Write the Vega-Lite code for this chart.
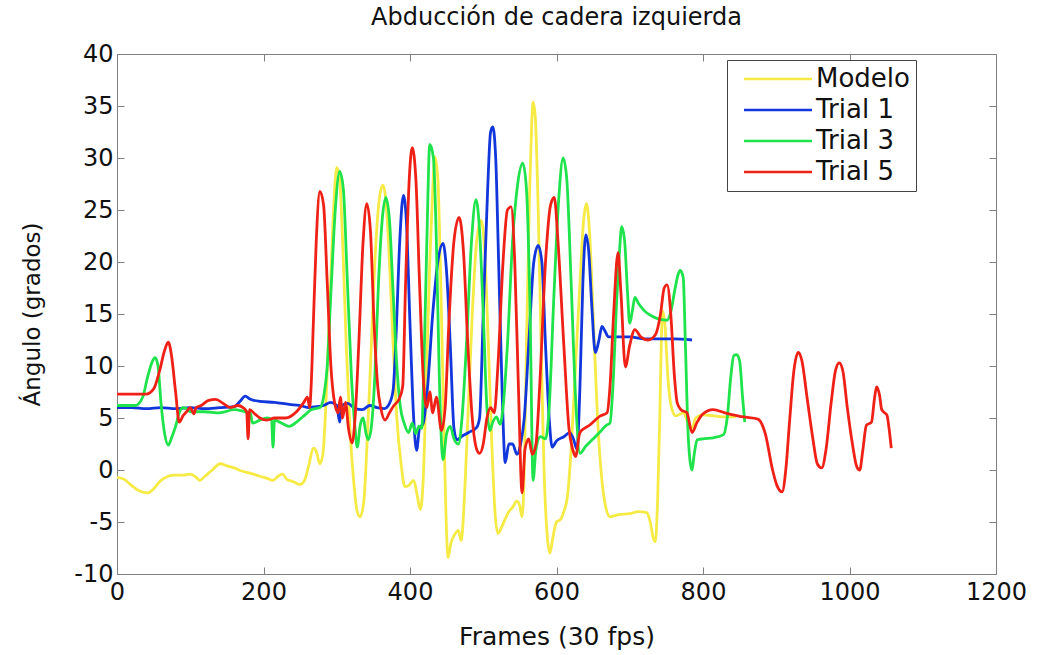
{
  "$schema": "https://vega.github.io/schema/vega-lite/v6.json",
  "width": 879,
  "height": 520,
  "autosize": {"type": "none"},
  "padding": {"left": 117, "top": 54, "right": 45, "bottom": 81},
  "background": "white",
  "title": {
    "text": "Abducción de cadera izquierda",
    "font": "DejaVu Sans",
    "fontSize": 24,
    "fontWeight": "normal",
    "color": "#111",
    "anchor": "middle",
    "offset": 12
  },
  "config": {
    "view": {"stroke": "#808080", "strokeWidth": 1},
    "axis": {
      "grid": false,
      "domainColor": "#808080",
      "tickColor": "#808080",
      "labelFont": "DejaVu Sans",
      "labelFontSize": 24,
      "labelColor": "#111",
      "titleFont": "DejaVu Sans",
      "titleFontWeight": "normal",
      "titleColor": "#111",
      "labelFlush": false,
      "labelOverlap": false
    }
  },
  "data": {
    "values": [
      {"serie": "Modelo", "frame": 0, "angulo": -0.7},
      {"serie": "Modelo", "frame": 10, "angulo": -0.9},
      {"serie": "Modelo", "frame": 20, "angulo": -1.5},
      {"serie": "Modelo", "frame": 30, "angulo": -2.0},
      {"serie": "Modelo", "frame": 42, "angulo": -2.2},
      {"serie": "Modelo", "frame": 50, "angulo": -1.8},
      {"serie": "Modelo", "frame": 60, "angulo": -1.0},
      {"serie": "Modelo", "frame": 70, "angulo": -0.6},
      {"serie": "Modelo", "frame": 77, "angulo": -0.5},
      {"serie": "Modelo", "frame": 90, "angulo": -0.5},
      {"serie": "Modelo", "frame": 100, "angulo": -0.4},
      {"serie": "Modelo", "frame": 108, "angulo": -0.7},
      {"serie": "Modelo", "frame": 113, "angulo": -1.0},
      {"serie": "Modelo", "frame": 120, "angulo": -0.6},
      {"serie": "Modelo", "frame": 130, "angulo": 0.0},
      {"serie": "Modelo", "frame": 141, "angulo": 0.6},
      {"serie": "Modelo", "frame": 150, "angulo": 0.4},
      {"serie": "Modelo", "frame": 160, "angulo": 0.2},
      {"serie": "Modelo", "frame": 170, "angulo": -0.1},
      {"serie": "Modelo", "frame": 182, "angulo": -0.3},
      {"serie": "Modelo", "frame": 195, "angulo": -0.6},
      {"serie": "Modelo", "frame": 205, "angulo": -0.8},
      {"serie": "Modelo", "frame": 213, "angulo": -1.0},
      {"serie": "Modelo", "frame": 220, "angulo": -0.6},
      {"serie": "Modelo", "frame": 226, "angulo": -0.4},
      {"serie": "Modelo", "frame": 232, "angulo": -0.9},
      {"serie": "Modelo", "frame": 240, "angulo": -1.1},
      {"serie": "Modelo", "frame": 250, "angulo": -1.4},
      {"serie": "Modelo", "frame": 256, "angulo": -1.0},
      {"serie": "Modelo", "frame": 262, "angulo": 0.5},
      {"serie": "Modelo", "frame": 268, "angulo": 2.1},
      {"serie": "Modelo", "frame": 272, "angulo": 1.8},
      {"serie": "Modelo", "frame": 277, "angulo": 0.6},
      {"serie": "Modelo", "frame": 281, "angulo": 1.5},
      {"serie": "Modelo", "frame": 285, "angulo": 6},
      {"serie": "Modelo", "frame": 290, "angulo": 15},
      {"serie": "Modelo", "frame": 295, "angulo": 24},
      {"serie": "Modelo", "frame": 300, "angulo": 29.1},
      {"serie": "Modelo", "frame": 304, "angulo": 28},
      {"serie": "Modelo", "frame": 308, "angulo": 22},
      {"serie": "Modelo", "frame": 313, "angulo": 12},
      {"serie": "Modelo", "frame": 318, "angulo": 4},
      {"serie": "Modelo", "frame": 323, "angulo": -1},
      {"serie": "Modelo", "frame": 328, "angulo": -4},
      {"serie": "Modelo", "frame": 332, "angulo": -4.5},
      {"serie": "Modelo", "frame": 337, "angulo": -3},
      {"serie": "Modelo", "frame": 341, "angulo": 2},
      {"serie": "Modelo", "frame": 346, "angulo": 10},
      {"serie": "Modelo", "frame": 352, "angulo": 20},
      {"serie": "Modelo", "frame": 358, "angulo": 26},
      {"serie": "Modelo", "frame": 363, "angulo": 27.4},
      {"serie": "Modelo", "frame": 367, "angulo": 26},
      {"serie": "Modelo", "frame": 372, "angulo": 20},
      {"serie": "Modelo", "frame": 377, "angulo": 12},
      {"serie": "Modelo", "frame": 382, "angulo": 5},
      {"serie": "Modelo", "frame": 388, "angulo": 0.5},
      {"serie": "Modelo", "frame": 393, "angulo": -1.6},
      {"serie": "Modelo", "frame": 398, "angulo": -1.5},
      {"serie": "Modelo", "frame": 405, "angulo": -1.0},
      {"serie": "Modelo", "frame": 410, "angulo": -2.5},
      {"serie": "Modelo", "frame": 414, "angulo": -3.8},
      {"serie": "Modelo", "frame": 418, "angulo": -1},
      {"serie": "Modelo", "frame": 422, "angulo": 8},
      {"serie": "Modelo", "frame": 427, "angulo": 20},
      {"serie": "Modelo", "frame": 431, "angulo": 27},
      {"serie": "Modelo", "frame": 434, "angulo": 30.1},
      {"serie": "Modelo", "frame": 438, "angulo": 28},
      {"serie": "Modelo", "frame": 442, "angulo": 18},
      {"serie": "Modelo", "frame": 446, "angulo": 5},
      {"serie": "Modelo", "frame": 449, "angulo": -4},
      {"serie": "Modelo", "frame": 452, "angulo": -8.4},
      {"serie": "Modelo", "frame": 456, "angulo": -7},
      {"serie": "Modelo", "frame": 461, "angulo": -6.2},
      {"serie": "Modelo", "frame": 466, "angulo": -5.8},
      {"serie": "Modelo", "frame": 470, "angulo": -6.8},
      {"serie": "Modelo", "frame": 474, "angulo": -3},
      {"serie": "Modelo", "frame": 479, "angulo": 5},
      {"serie": "Modelo", "frame": 485, "angulo": 15},
      {"serie": "Modelo", "frame": 491, "angulo": 22},
      {"serie": "Modelo", "frame": 497, "angulo": 24},
      {"serie": "Modelo", "frame": 502, "angulo": 21},
      {"serie": "Modelo", "frame": 507, "angulo": 12},
      {"serie": "Modelo", "frame": 512, "angulo": 2},
      {"serie": "Modelo", "frame": 516, "angulo": -4},
      {"serie": "Modelo", "frame": 520, "angulo": -6.1},
      {"serie": "Modelo", "frame": 525, "angulo": -5.5},
      {"serie": "Modelo", "frame": 530, "angulo": -4.7},
      {"serie": "Modelo", "frame": 535, "angulo": -4.0},
      {"serie": "Modelo", "frame": 540, "angulo": -3.6},
      {"serie": "Modelo", "frame": 546, "angulo": -3.0},
      {"serie": "Modelo", "frame": 550, "angulo": -3.5},
      {"serie": "Modelo", "frame": 553, "angulo": -4.5},
      {"serie": "Modelo", "frame": 556, "angulo": 0},
      {"serie": "Modelo", "frame": 559, "angulo": 12},
      {"serie": "Modelo", "frame": 563, "angulo": 26},
      {"serie": "Modelo", "frame": 566, "angulo": 33},
      {"serie": "Modelo", "frame": 568, "angulo": 35.4},
      {"serie": "Modelo", "frame": 571, "angulo": 34},
      {"serie": "Modelo", "frame": 575, "angulo": 25},
      {"serie": "Modelo", "frame": 579, "angulo": 12},
      {"serie": "Modelo", "frame": 583, "angulo": 0},
      {"serie": "Modelo", "frame": 587, "angulo": -6},
      {"serie": "Modelo", "frame": 591, "angulo": -8.0},
      {"serie": "Modelo", "frame": 595, "angulo": -6.5},
      {"serie": "Modelo", "frame": 600, "angulo": -5.0},
      {"serie": "Modelo", "frame": 605, "angulo": -4.8},
      {"serie": "Modelo", "frame": 610, "angulo": -4.0},
      {"serie": "Modelo", "frame": 615, "angulo": -2.5},
      {"serie": "Modelo", "frame": 620, "angulo": 2},
      {"serie": "Modelo", "frame": 626, "angulo": 10},
      {"serie": "Modelo", "frame": 632, "angulo": 18},
      {"serie": "Modelo", "frame": 637, "angulo": 24},
      {"serie": "Modelo", "frame": 641, "angulo": 25.6},
      {"serie": "Modelo", "frame": 645, "angulo": 23},
      {"serie": "Modelo", "frame": 650, "angulo": 15},
      {"serie": "Modelo", "frame": 656, "angulo": 5},
      {"serie": "Modelo", "frame": 662, "angulo": -1},
      {"serie": "Modelo", "frame": 668, "angulo": -3.8},
      {"serie": "Modelo", "frame": 673, "angulo": -4.5},
      {"serie": "Modelo", "frame": 685, "angulo": -4.3},
      {"serie": "Modelo", "frame": 700, "angulo": -4.2},
      {"serie": "Modelo", "frame": 712, "angulo": -4.0},
      {"serie": "Modelo", "frame": 723, "angulo": -4.1},
      {"serie": "Modelo", "frame": 728, "angulo": -5.0},
      {"serie": "Modelo", "frame": 732, "angulo": -6.5},
      {"serie": "Modelo", "frame": 735, "angulo": -6.9},
      {"serie": "Modelo", "frame": 738, "angulo": -3},
      {"serie": "Modelo", "frame": 741, "angulo": 5},
      {"serie": "Modelo", "frame": 743, "angulo": 12},
      {"serie": "Modelo", "frame": 745, "angulo": 15.3},
      {"serie": "Modelo", "frame": 748, "angulo": 14},
      {"serie": "Modelo", "frame": 752, "angulo": 9},
      {"serie": "Modelo", "frame": 757, "angulo": 6},
      {"serie": "Modelo", "frame": 763, "angulo": 5.2},
      {"serie": "Modelo", "frame": 773, "angulo": 5.5},
      {"serie": "Modelo", "frame": 780, "angulo": 4.5},
      {"serie": "Modelo", "frame": 785, "angulo": 4.0},
      {"serie": "Modelo", "frame": 790, "angulo": 5.0},
      {"serie": "Modelo", "frame": 800, "angulo": 5.3},
      {"serie": "Modelo", "frame": 815, "angulo": 5.2},
      {"serie": "Modelo", "frame": 830, "angulo": 5.1},
      {"serie": "Modelo", "frame": 845, "angulo": 5.1},

      {"serie": "Trial 1", "frame": 0, "angulo": 6.0},
      {"serie": "Trial 1", "frame": 20, "angulo": 6.0},
      {"serie": "Trial 1", "frame": 40, "angulo": 5.9},
      {"serie": "Trial 1", "frame": 60, "angulo": 6.0},
      {"serie": "Trial 1", "frame": 80, "angulo": 5.9},
      {"serie": "Trial 1", "frame": 100, "angulo": 6.0},
      {"serie": "Trial 1", "frame": 120, "angulo": 5.9},
      {"serie": "Trial 1", "frame": 140, "angulo": 6.0},
      {"serie": "Trial 1", "frame": 160, "angulo": 6.1},
      {"serie": "Trial 1", "frame": 168, "angulo": 6.6},
      {"serie": "Trial 1", "frame": 175, "angulo": 7.1},
      {"serie": "Trial 1", "frame": 182, "angulo": 6.8},
      {"serie": "Trial 1", "frame": 195, "angulo": 6.6},
      {"serie": "Trial 1", "frame": 215, "angulo": 6.5},
      {"serie": "Trial 1", "frame": 235, "angulo": 6.3},
      {"serie": "Trial 1", "frame": 250, "angulo": 6.2},
      {"serie": "Trial 1", "frame": 262, "angulo": 6.0},
      {"serie": "Trial 1", "frame": 272, "angulo": 6.1},
      {"serie": "Trial 1", "frame": 282, "angulo": 6.2},
      {"serie": "Trial 1", "frame": 292, "angulo": 6.5},
      {"serie": "Trial 1", "frame": 300, "angulo": 6.2},
      {"serie": "Trial 1", "frame": 304, "angulo": 4.6},
      {"serie": "Trial 1", "frame": 307, "angulo": 6.2},
      {"serie": "Trial 1", "frame": 315, "angulo": 6.4},
      {"serie": "Trial 1", "frame": 325, "angulo": 5.9},
      {"serie": "Trial 1", "frame": 335, "angulo": 5.8},
      {"serie": "Trial 1", "frame": 345, "angulo": 6.2},
      {"serie": "Trial 1", "frame": 355, "angulo": 6.0},
      {"serie": "Trial 1", "frame": 365, "angulo": 5.9},
      {"serie": "Trial 1", "frame": 372, "angulo": 6.4},
      {"serie": "Trial 1", "frame": 377, "angulo": 7.7},
      {"serie": "Trial 1", "frame": 381, "angulo": 13},
      {"serie": "Trial 1", "frame": 386, "angulo": 22},
      {"serie": "Trial 1", "frame": 391, "angulo": 26.4},
      {"serie": "Trial 1", "frame": 395, "angulo": 24},
      {"serie": "Trial 1", "frame": 400, "angulo": 14},
      {"serie": "Trial 1", "frame": 405, "angulo": 5},
      {"serie": "Trial 1", "frame": 409, "angulo": 1.9},
      {"serie": "Trial 1", "frame": 413, "angulo": 4},
      {"serie": "Trial 1", "frame": 418, "angulo": 4.5},
      {"serie": "Trial 1", "frame": 424, "angulo": 8},
      {"serie": "Trial 1", "frame": 431, "angulo": 15},
      {"serie": "Trial 1", "frame": 438, "angulo": 20},
      {"serie": "Trial 1", "frame": 445, "angulo": 21.8},
      {"serie": "Trial 1", "frame": 450, "angulo": 19},
      {"serie": "Trial 1", "frame": 455, "angulo": 12},
      {"serie": "Trial 1", "frame": 460, "angulo": 4},
      {"serie": "Trial 1", "frame": 464, "angulo": 2.9},
      {"serie": "Trial 1", "frame": 470, "angulo": 3.2},
      {"serie": "Trial 1", "frame": 480, "angulo": 3.6},
      {"serie": "Trial 1", "frame": 491, "angulo": 4.1},
      {"serie": "Trial 1", "frame": 495, "angulo": 5},
      {"serie": "Trial 1", "frame": 500, "angulo": 15},
      {"serie": "Trial 1", "frame": 506, "angulo": 27},
      {"serie": "Trial 1", "frame": 510, "angulo": 32.5},
      {"serie": "Trial 1", "frame": 513, "angulo": 33.0},
      {"serie": "Trial 1", "frame": 517, "angulo": 30},
      {"serie": "Trial 1", "frame": 521, "angulo": 20},
      {"serie": "Trial 1", "frame": 526, "angulo": 7},
      {"serie": "Trial 1", "frame": 530, "angulo": 0.7},
      {"serie": "Trial 1", "frame": 535, "angulo": 2.5},
      {"serie": "Trial 1", "frame": 540, "angulo": 2.5},
      {"serie": "Trial 1", "frame": 546, "angulo": 1.5},
      {"serie": "Trial 1", "frame": 551, "angulo": 2.5},
      {"serie": "Trial 1", "frame": 556, "angulo": 5},
      {"serie": "Trial 1", "frame": 562, "angulo": 12},
      {"serie": "Trial 1", "frame": 569, "angulo": 20},
      {"serie": "Trial 1", "frame": 575, "angulo": 21.6},
      {"serie": "Trial 1", "frame": 580, "angulo": 20},
      {"serie": "Trial 1", "frame": 585, "angulo": 12},
      {"serie": "Trial 1", "frame": 590, "angulo": 5},
      {"serie": "Trial 1", "frame": 594, "angulo": 2.2},
      {"serie": "Trial 1", "frame": 600, "angulo": 2.8},
      {"serie": "Trial 1", "frame": 610, "angulo": 3.2},
      {"serie": "Trial 1", "frame": 618, "angulo": 3.6},
      {"serie": "Trial 1", "frame": 623, "angulo": 3.0},
      {"serie": "Trial 1", "frame": 628, "angulo": 2.0},
      {"serie": "Trial 1", "frame": 632, "angulo": 8},
      {"serie": "Trial 1", "frame": 636, "angulo": 18},
      {"serie": "Trial 1", "frame": 640, "angulo": 22.6},
      {"serie": "Trial 1", "frame": 644, "angulo": 21},
      {"serie": "Trial 1", "frame": 648, "angulo": 16},
      {"serie": "Trial 1", "frame": 653, "angulo": 11.3},
      {"serie": "Trial 1", "frame": 658, "angulo": 12.5},
      {"serie": "Trial 1", "frame": 662, "angulo": 13.8},
      {"serie": "Trial 1", "frame": 666, "angulo": 13.4},
      {"serie": "Trial 1", "frame": 671, "angulo": 12.8},
      {"serie": "Trial 1", "frame": 680, "angulo": 12.8},
      {"serie": "Trial 1", "frame": 700, "angulo": 12.8},
      {"serie": "Trial 1", "frame": 720, "angulo": 12.6},
      {"serie": "Trial 1", "frame": 740, "angulo": 12.6},
      {"serie": "Trial 1", "frame": 760, "angulo": 12.6},
      {"serie": "Trial 1", "frame": 785, "angulo": 12.5},

      {"serie": "Trial 3", "frame": 0, "angulo": 6.2},
      {"serie": "Trial 3", "frame": 25, "angulo": 6.2},
      {"serie": "Trial 3", "frame": 35, "angulo": 7.0},
      {"serie": "Trial 3", "frame": 42, "angulo": 9.0},
      {"serie": "Trial 3", "frame": 48, "angulo": 10.4},
      {"serie": "Trial 3", "frame": 52, "angulo": 10.8},
      {"serie": "Trial 3", "frame": 56, "angulo": 10.0},
      {"serie": "Trial 3", "frame": 60, "angulo": 6.5},
      {"serie": "Trial 3", "frame": 65, "angulo": 3.5},
      {"serie": "Trial 3", "frame": 70, "angulo": 2.4},
      {"serie": "Trial 3", "frame": 75, "angulo": 3.2},
      {"serie": "Trial 3", "frame": 80, "angulo": 4.2},
      {"serie": "Trial 3", "frame": 85, "angulo": 5.5},
      {"serie": "Trial 3", "frame": 90, "angulo": 6.0},
      {"serie": "Trial 3", "frame": 95, "angulo": 5.9},
      {"serie": "Trial 3", "frame": 100, "angulo": 5.6},
      {"serie": "Trial 3", "frame": 120, "angulo": 5.6},
      {"serie": "Trial 3", "frame": 140, "angulo": 5.5},
      {"serie": "Trial 3", "frame": 160, "angulo": 5.8},
      {"serie": "Trial 3", "frame": 175, "angulo": 5.6},
      {"serie": "Trial 3", "frame": 182, "angulo": 5.5},
      {"serie": "Trial 3", "frame": 185, "angulo": 4.5},
      {"serie": "Trial 3", "frame": 195, "angulo": 4.8},
      {"serie": "Trial 3", "frame": 205, "angulo": 5.0},
      {"serie": "Trial 3", "frame": 211, "angulo": 4.8},
      {"serie": "Trial 3", "frame": 213, "angulo": 2.2},
      {"serie": "Trial 3", "frame": 215, "angulo": 4.8},
      {"serie": "Trial 3", "frame": 225, "angulo": 4.5},
      {"serie": "Trial 3", "frame": 235, "angulo": 4.2},
      {"serie": "Trial 3", "frame": 245, "angulo": 4.6},
      {"serie": "Trial 3", "frame": 255, "angulo": 5.2},
      {"serie": "Trial 3", "frame": 265, "angulo": 5.8},
      {"serie": "Trial 3", "frame": 277, "angulo": 6.0},
      {"serie": "Trial 3", "frame": 282, "angulo": 7.0},
      {"serie": "Trial 3", "frame": 287, "angulo": 10},
      {"serie": "Trial 3", "frame": 292, "angulo": 17},
      {"serie": "Trial 3", "frame": 298, "angulo": 25},
      {"serie": "Trial 3", "frame": 304, "angulo": 28.7},
      {"serie": "Trial 3", "frame": 309, "angulo": 27},
      {"serie": "Trial 3", "frame": 314, "angulo": 19},
      {"serie": "Trial 3", "frame": 320, "angulo": 9},
      {"serie": "Trial 3", "frame": 325, "angulo": 4},
      {"serie": "Trial 3", "frame": 328, "angulo": 2.2},
      {"serie": "Trial 3", "frame": 332, "angulo": 4.3},
      {"serie": "Trial 3", "frame": 336, "angulo": 5.0},
      {"serie": "Trial 3", "frame": 340, "angulo": 3.5},
      {"serie": "Trial 3", "frame": 343, "angulo": 2.9},
      {"serie": "Trial 3", "frame": 347, "angulo": 4},
      {"serie": "Trial 3", "frame": 352, "angulo": 9},
      {"serie": "Trial 3", "frame": 357, "angulo": 18},
      {"serie": "Trial 3", "frame": 362, "angulo": 24},
      {"serie": "Trial 3", "frame": 367, "angulo": 26.2},
      {"serie": "Trial 3", "frame": 372, "angulo": 24},
      {"serie": "Trial 3", "frame": 377, "angulo": 17},
      {"serie": "Trial 3", "frame": 382, "angulo": 10},
      {"serie": "Trial 3", "frame": 387, "angulo": 6},
      {"serie": "Trial 3", "frame": 392, "angulo": 4.5},
      {"serie": "Trial 3", "frame": 398, "angulo": 3.6},
      {"serie": "Trial 3", "frame": 403, "angulo": 4.5},
      {"serie": "Trial 3", "frame": 408, "angulo": 3.5},
      {"serie": "Trial 3", "frame": 412, "angulo": 4.2},
      {"serie": "Trial 3", "frame": 416, "angulo": 4},
      {"serie": "Trial 3", "frame": 419, "angulo": 10},
      {"serie": "Trial 3", "frame": 423, "angulo": 22},
      {"serie": "Trial 3", "frame": 427, "angulo": 31.3},
      {"serie": "Trial 3", "frame": 432, "angulo": 30},
      {"serie": "Trial 3", "frame": 436, "angulo": 22},
      {"serie": "Trial 3", "frame": 440, "angulo": 9},
      {"serie": "Trial 3", "frame": 445, "angulo": 1.0},
      {"serie": "Trial 3", "frame": 450, "angulo": 3.5},
      {"serie": "Trial 3", "frame": 455, "angulo": 4.2},
      {"serie": "Trial 3", "frame": 460, "angulo": 3.0},
      {"serie": "Trial 3", "frame": 466, "angulo": 2.5},
      {"serie": "Trial 3", "frame": 471, "angulo": 5},
      {"serie": "Trial 3", "frame": 477, "angulo": 12},
      {"serie": "Trial 3", "frame": 484, "angulo": 22},
      {"serie": "Trial 3", "frame": 490, "angulo": 26.0},
      {"serie": "Trial 3", "frame": 495, "angulo": 23},
      {"serie": "Trial 3", "frame": 500, "angulo": 15},
      {"serie": "Trial 3", "frame": 505, "angulo": 6},
      {"serie": "Trial 3", "frame": 509, "angulo": 3.8},
      {"serie": "Trial 3", "frame": 513, "angulo": 4.6},
      {"serie": "Trial 3", "frame": 518, "angulo": 5.1},
      {"serie": "Trial 3", "frame": 523, "angulo": 4.4},
      {"serie": "Trial 3", "frame": 527, "angulo": 6},
      {"serie": "Trial 3", "frame": 533, "angulo": 12},
      {"serie": "Trial 3", "frame": 540, "angulo": 22},
      {"serie": "Trial 3", "frame": 547, "angulo": 27.5},
      {"serie": "Trial 3", "frame": 554, "angulo": 29.5},
      {"serie": "Trial 3", "frame": 559, "angulo": 27},
      {"serie": "Trial 3", "frame": 564, "angulo": 15},
      {"serie": "Trial 3", "frame": 568, "angulo": -1.0},
      {"serie": "Trial 3", "frame": 572, "angulo": 2},
      {"serie": "Trial 3", "frame": 578, "angulo": 3.2},
      {"serie": "Trial 3", "frame": 585, "angulo": 3.0},
      {"serie": "Trial 3", "frame": 590, "angulo": 6},
      {"serie": "Trial 3", "frame": 596, "angulo": 16},
      {"serie": "Trial 3", "frame": 603, "angulo": 26},
      {"serie": "Trial 3", "frame": 609, "angulo": 30.0},
      {"serie": "Trial 3", "frame": 614, "angulo": 28},
      {"serie": "Trial 3", "frame": 620, "angulo": 18},
      {"serie": "Trial 3", "frame": 626, "angulo": 7},
      {"serie": "Trial 3", "frame": 632, "angulo": 1.6},
      {"serie": "Trial 3", "frame": 640, "angulo": 2.3},
      {"serie": "Trial 3", "frame": 650, "angulo": 3.0},
      {"serie": "Trial 3", "frame": 660, "angulo": 3.7},
      {"serie": "Trial 3", "frame": 668, "angulo": 4.3},
      {"serie": "Trial 3", "frame": 673, "angulo": 4.5},
      {"serie": "Trial 3", "frame": 677, "angulo": 8},
      {"serie": "Trial 3", "frame": 682, "angulo": 16},
      {"serie": "Trial 3", "frame": 686, "angulo": 21},
      {"serie": "Trial 3", "frame": 689, "angulo": 23.4},
      {"serie": "Trial 3", "frame": 693, "angulo": 22},
      {"serie": "Trial 3", "frame": 697, "angulo": 17},
      {"serie": "Trial 3", "frame": 700, "angulo": 14.1},
      {"serie": "Trial 3", "frame": 704, "angulo": 15.5},
      {"serie": "Trial 3", "frame": 707, "angulo": 16.6},
      {"serie": "Trial 3", "frame": 712, "angulo": 16},
      {"serie": "Trial 3", "frame": 720, "angulo": 15.3},
      {"serie": "Trial 3", "frame": 730, "angulo": 14.8},
      {"serie": "Trial 3", "frame": 740, "angulo": 14.5},
      {"serie": "Trial 3", "frame": 751, "angulo": 14.4},
      {"serie": "Trial 3", "frame": 756, "angulo": 15.2},
      {"serie": "Trial 3", "frame": 762, "angulo": 17.5},
      {"serie": "Trial 3", "frame": 766, "angulo": 18.8},
      {"serie": "Trial 3", "frame": 769, "angulo": 19.2},
      {"serie": "Trial 3", "frame": 773, "angulo": 18.5},
      {"serie": "Trial 3", "frame": 776, "angulo": 12},
      {"serie": "Trial 3", "frame": 780, "angulo": 3},
      {"serie": "Trial 3", "frame": 785, "angulo": 0.0},
      {"serie": "Trial 3", "frame": 788, "angulo": 1.5},
      {"serie": "Trial 3", "frame": 792, "angulo": 2.9},
      {"serie": "Trial 3", "frame": 800, "angulo": 3.0},
      {"serie": "Trial 3", "frame": 814, "angulo": 3.1},
      {"serie": "Trial 3", "frame": 828, "angulo": 3.4},
      {"serie": "Trial 3", "frame": 833, "angulo": 5},
      {"serie": "Trial 3", "frame": 838, "angulo": 9},
      {"serie": "Trial 3", "frame": 842, "angulo": 11},
      {"serie": "Trial 3", "frame": 846, "angulo": 11.1},
      {"serie": "Trial 3", "frame": 850, "angulo": 10.5},
      {"serie": "Trial 3", "frame": 854, "angulo": 7},
      {"serie": "Trial 3", "frame": 857, "angulo": 4.6},

      {"serie": "Trial 5", "frame": 0, "angulo": 7.3},
      {"serie": "Trial 5", "frame": 40, "angulo": 7.3},
      {"serie": "Trial 5", "frame": 50, "angulo": 7.8},
      {"serie": "Trial 5", "frame": 58, "angulo": 9.5},
      {"serie": "Trial 5", "frame": 65, "angulo": 11.5},
      {"serie": "Trial 5", "frame": 70, "angulo": 12.3},
      {"serie": "Trial 5", "frame": 74, "angulo": 11.2},
      {"serie": "Trial 5", "frame": 80, "angulo": 7.5},
      {"serie": "Trial 5", "frame": 85, "angulo": 4.6},
      {"serie": "Trial 5", "frame": 90, "angulo": 5.2},
      {"serie": "Trial 5", "frame": 95, "angulo": 5.6},
      {"serie": "Trial 5", "frame": 100, "angulo": 6.0},
      {"serie": "Trial 5", "frame": 105, "angulo": 5.4},
      {"serie": "Trial 5", "frame": 108, "angulo": 6.0},
      {"serie": "Trial 5", "frame": 115, "angulo": 6.2},
      {"serie": "Trial 5", "frame": 125, "angulo": 6.7},
      {"serie": "Trial 5", "frame": 135, "angulo": 6.8},
      {"serie": "Trial 5", "frame": 145, "angulo": 6.4},
      {"serie": "Trial 5", "frame": 155, "angulo": 6.0},
      {"serie": "Trial 5", "frame": 165, "angulo": 6.2},
      {"serie": "Trial 5", "frame": 172, "angulo": 6.0},
      {"serie": "Trial 5", "frame": 177, "angulo": 5.6},
      {"serie": "Trial 5", "frame": 179, "angulo": 3.0},
      {"serie": "Trial 5", "frame": 181, "angulo": 5.8},
      {"serie": "Trial 5", "frame": 188, "angulo": 5.4},
      {"serie": "Trial 5", "frame": 195, "angulo": 5.0},
      {"serie": "Trial 5", "frame": 205, "angulo": 4.8},
      {"serie": "Trial 5", "frame": 215, "angulo": 5.0},
      {"serie": "Trial 5", "frame": 230, "angulo": 5.0},
      {"serie": "Trial 5", "frame": 245, "angulo": 5.6},
      {"serie": "Trial 5", "frame": 255, "angulo": 6.5},
      {"serie": "Trial 5", "frame": 260, "angulo": 7.0},
      {"serie": "Trial 5", "frame": 263, "angulo": 6.0},
      {"serie": "Trial 5", "frame": 265, "angulo": 8},
      {"serie": "Trial 5", "frame": 268, "angulo": 14},
      {"serie": "Trial 5", "frame": 272, "angulo": 22},
      {"serie": "Trial 5", "frame": 277, "angulo": 26.8},
      {"serie": "Trial 5", "frame": 282, "angulo": 25.5},
      {"serie": "Trial 5", "frame": 287, "angulo": 18},
      {"serie": "Trial 5", "frame": 292, "angulo": 10},
      {"serie": "Trial 5", "frame": 297, "angulo": 6.5},
      {"serie": "Trial 5", "frame": 302, "angulo": 5.5},
      {"serie": "Trial 5", "frame": 305, "angulo": 7.0},
      {"serie": "Trial 5", "frame": 308, "angulo": 5.0},
      {"serie": "Trial 5", "frame": 312, "angulo": 6.5},
      {"serie": "Trial 5", "frame": 316, "angulo": 4},
      {"serie": "Trial 5", "frame": 321, "angulo": 2.6},
      {"serie": "Trial 5", "frame": 325, "angulo": 5},
      {"serie": "Trial 5", "frame": 330, "angulo": 12},
      {"serie": "Trial 5", "frame": 336, "angulo": 22},
      {"serie": "Trial 5", "frame": 341, "angulo": 25.6},
      {"serie": "Trial 5", "frame": 346, "angulo": 23},
      {"serie": "Trial 5", "frame": 351, "angulo": 14},
      {"serie": "Trial 5", "frame": 356, "angulo": 8},
      {"serie": "Trial 5", "frame": 360, "angulo": 6},
      {"serie": "Trial 5", "frame": 366, "angulo": 4.8},
      {"serie": "Trial 5", "frame": 372, "angulo": 5.5},
      {"serie": "Trial 5", "frame": 378, "angulo": 6.2},
      {"serie": "Trial 5", "frame": 385, "angulo": 6.8},
      {"serie": "Trial 5", "frame": 390, "angulo": 8},
      {"serie": "Trial 5", "frame": 394, "angulo": 18},
      {"serie": "Trial 5", "frame": 399, "angulo": 28},
      {"serie": "Trial 5", "frame": 403, "angulo": 31},
      {"serie": "Trial 5", "frame": 408, "angulo": 28},
      {"serie": "Trial 5", "frame": 413, "angulo": 18},
      {"serie": "Trial 5", "frame": 418, "angulo": 9},
      {"serie": "Trial 5", "frame": 423, "angulo": 6.0},
      {"serie": "Trial 5", "frame": 427, "angulo": 7.5},
      {"serie": "Trial 5", "frame": 431, "angulo": 5.5},
      {"serie": "Trial 5", "frame": 436, "angulo": 7},
      {"serie": "Trial 5", "frame": 443, "angulo": 3.8},
      {"serie": "Trial 5", "frame": 448, "angulo": 6},
      {"serie": "Trial 5", "frame": 453, "angulo": 14},
      {"serie": "Trial 5", "frame": 460, "angulo": 22},
      {"serie": "Trial 5", "frame": 467, "angulo": 24.3},
      {"serie": "Trial 5", "frame": 473, "angulo": 21},
      {"serie": "Trial 5", "frame": 479, "angulo": 12},
      {"serie": "Trial 5", "frame": 485, "angulo": 5},
      {"serie": "Trial 5", "frame": 491, "angulo": 2.0},
      {"serie": "Trial 5", "frame": 495, "angulo": 1.6},
      {"serie": "Trial 5", "frame": 500, "angulo": 2.5},
      {"serie": "Trial 5", "frame": 505, "angulo": 5},
      {"serie": "Trial 5", "frame": 510, "angulo": 6},
      {"serie": "Trial 5", "frame": 515, "angulo": 5.5},
      {"serie": "Trial 5", "frame": 520, "angulo": 10},
      {"serie": "Trial 5", "frame": 527, "angulo": 20},
      {"serie": "Trial 5", "frame": 533, "angulo": 25},
      {"serie": "Trial 5", "frame": 538, "angulo": 25.3},
      {"serie": "Trial 5", "frame": 543, "angulo": 20},
      {"serie": "Trial 5", "frame": 548, "angulo": 8},
      {"serie": "Trial 5", "frame": 553, "angulo": -2.2},
      {"serie": "Trial 5", "frame": 557, "angulo": 2},
      {"serie": "Trial 5", "frame": 562, "angulo": 3},
      {"serie": "Trial 5", "frame": 567, "angulo": 1.5},
      {"serie": "Trial 5", "frame": 572, "angulo": 2.5},
      {"serie": "Trial 5", "frame": 577, "angulo": 8},
      {"serie": "Trial 5", "frame": 585, "angulo": 20},
      {"serie": "Trial 5", "frame": 592, "angulo": 25.5},
      {"serie": "Trial 5", "frame": 597, "angulo": 26.2},
      {"serie": "Trial 5", "frame": 602, "angulo": 22},
      {"serie": "Trial 5", "frame": 610, "angulo": 12},
      {"serie": "Trial 5", "frame": 617, "angulo": 4},
      {"serie": "Trial 5", "frame": 622, "angulo": 2},
      {"serie": "Trial 5", "frame": 626, "angulo": 1.3},
      {"serie": "Trial 5", "frame": 632, "angulo": 3.6},
      {"serie": "Trial 5", "frame": 645, "angulo": 4.3},
      {"serie": "Trial 5", "frame": 660, "angulo": 5.2},
      {"serie": "Trial 5", "frame": 669, "angulo": 5.5},
      {"serie": "Trial 5", "frame": 673, "angulo": 8},
      {"serie": "Trial 5", "frame": 678, "angulo": 15},
      {"serie": "Trial 5", "frame": 684, "angulo": 20.9},
      {"serie": "Trial 5", "frame": 688, "angulo": 17},
      {"serie": "Trial 5", "frame": 694, "angulo": 9.9},
      {"serie": "Trial 5", "frame": 700, "angulo": 12},
      {"serie": "Trial 5", "frame": 707, "angulo": 13.5},
      {"serie": "Trial 5", "frame": 715, "angulo": 12.8},
      {"serie": "Trial 5", "frame": 725, "angulo": 12.5},
      {"serie": "Trial 5", "frame": 735, "angulo": 13},
      {"serie": "Trial 5", "frame": 742, "angulo": 15},
      {"serie": "Trial 5", "frame": 747, "angulo": 17.5},
      {"serie": "Trial 5", "frame": 751, "angulo": 17.8},
      {"serie": "Trial 5", "frame": 756, "angulo": 15},
      {"serie": "Trial 5", "frame": 761, "angulo": 9},
      {"serie": "Trial 5", "frame": 765, "angulo": 6.4},
      {"serie": "Trial 5", "frame": 770, "angulo": 5.8},
      {"serie": "Trial 5", "frame": 778, "angulo": 5.5},
      {"serie": "Trial 5", "frame": 785, "angulo": 3.6},
      {"serie": "Trial 5", "frame": 792, "angulo": 4.6},
      {"serie": "Trial 5", "frame": 800, "angulo": 5.4},
      {"serie": "Trial 5", "frame": 814, "angulo": 5.8},
      {"serie": "Trial 5", "frame": 830, "angulo": 5.5},
      {"serie": "Trial 5", "frame": 855, "angulo": 5.1},
      {"serie": "Trial 5", "frame": 875, "angulo": 4.9},
      {"serie": "Trial 5", "frame": 885, "angulo": 3.5},
      {"serie": "Trial 5", "frame": 895, "angulo": 0},
      {"serie": "Trial 5", "frame": 901, "angulo": -1.5},
      {"serie": "Trial 5", "frame": 908, "angulo": -2.1},
      {"serie": "Trial 5", "frame": 913, "angulo": 0},
      {"serie": "Trial 5", "frame": 918, "angulo": 4.5},
      {"serie": "Trial 5", "frame": 924, "angulo": 9.5},
      {"serie": "Trial 5", "frame": 930, "angulo": 11.3},
      {"serie": "Trial 5", "frame": 935, "angulo": 10.5},
      {"serie": "Trial 5", "frame": 942, "angulo": 7},
      {"serie": "Trial 5", "frame": 950, "angulo": 3},
      {"serie": "Trial 5", "frame": 956, "angulo": 0.6},
      {"serie": "Trial 5", "frame": 962, "angulo": 0.2},
      {"serie": "Trial 5", "frame": 968, "angulo": 2},
      {"serie": "Trial 5", "frame": 975, "angulo": 6.5},
      {"serie": "Trial 5", "frame": 981, "angulo": 9.6},
      {"serie": "Trial 5", "frame": 986, "angulo": 10.3},
      {"serie": "Trial 5", "frame": 991, "angulo": 9.5},
      {"serie": "Trial 5", "frame": 997, "angulo": 6},
      {"serie": "Trial 5", "frame": 1004, "angulo": 2.5},
      {"serie": "Trial 5", "frame": 1010, "angulo": 0.3},
      {"serie": "Trial 5", "frame": 1014, "angulo": 0},
      {"serie": "Trial 5", "frame": 1018, "angulo": 1.8},
      {"serie": "Trial 5", "frame": 1023, "angulo": 4.3},
      {"serie": "Trial 5", "frame": 1030, "angulo": 4.6},
      {"serie": "Trial 5", "frame": 1034, "angulo": 6.8},
      {"serie": "Trial 5", "frame": 1037, "angulo": 8.0},
      {"serie": "Trial 5", "frame": 1041, "angulo": 7.2},
      {"serie": "Trial 5", "frame": 1044, "angulo": 5.8},
      {"serie": "Trial 5", "frame": 1048, "angulo": 5.5},
      {"serie": "Trial 5", "frame": 1051, "angulo": 5.3},
      {"serie": "Trial 5", "frame": 1054, "angulo": 4},
      {"serie": "Trial 5", "frame": 1057, "angulo": 2.1}
    ]
  },
  "layer": [
    {
      "mark": {"type": "line", "strokeWidth": 2.8, "interpolate": "monotone"},
      "encoding": {
        "x": {
          "field": "frame",
          "type": "quantitative",
          "scale": {"domain": [0, 1200], "nice": false, "zero": false},
          "axis": {
            "values": [0, 200, 400, 600, 800, 1000, 1200],
            "labelExpr": "'' + datum.value",
            "title": "Frames (30 fps)",
            "titleFontSize": 25,
            "titlePadding": 20,
            "tickSize": -7,
            "labelPadding": 13
          }
        },
        "y": {
          "field": "angulo",
          "type": "quantitative",
          "scale": {"domain": [-10, 40], "nice": false, "zero": false},
          "axis": {
            "values": [-10, -5, 0, 5, 10, 15, 20, 25, 30, 35, 40],
            "labelExpr": "'' + datum.value",
            "title": "Ángulo (grados)",
            "titleFontSize": 23,
            "titlePadding": 29,
            "tickSize": -7,
            "labelPadding": 11
          }
        },
        "color": {
          "field": "serie",
          "type": "nominal",
          "scale": {
            "domain": ["Modelo", "Trial 1", "Trial 3", "Trial 5"],
            "range": ["#f6ea45", "#1136dc", "#1fe34a", "#ef2116"]
          },
          "legend": {
            "orient": "none",
            "legendX": 610,
            "legendY": 6,
            "title": null,
            "symbolType": "M0,0H8",
            "symbolSize": 289,
            "symbolStrokeWidth": 2.6,
            "symbolOffset": -2,
            "labelOffset": 59,
            "labelFont": "DejaVu Sans",
            "labelFontSize": 26,
            "labelColor": "#111",
            "rowPadding": 5,
            "padding": 6,
            "strokeColor": "#444",
            "fillColor": "white"
          }
        }
      }
    },
    {
      "mark": {"type": "line", "opacity": 0},
      "encoding": {
        "x": {
          "field": "frame",
          "type": "quantitative",
          "axis": {
            "orient": "top",
            "values": [0, 200, 400, 600, 800, 1000, 1200],
            "labels": false,
            "title": null,
            "domain": false,
            "tickSize": -7
          }
        },
        "y": {
          "field": "angulo",
          "type": "quantitative",
          "axis": {
            "orient": "right",
            "values": [-10, -5, 0, 5, 10, 15, 20, 25, 30, 35, 40],
            "labels": false,
            "title": null,
            "domain": false,
            "tickSize": -7
          }
        }
      }
    }
  ],
  "resolve": {"axis": {"x": "independent", "y": "independent"}}
}
